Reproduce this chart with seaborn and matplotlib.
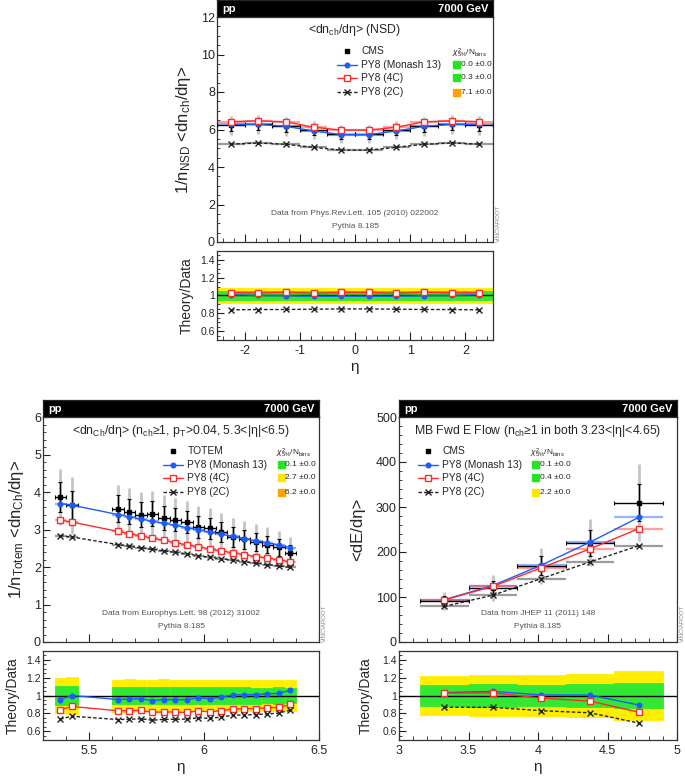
import numpy as np
import pandas as pd
import matplotlib
matplotlib.use("Agg")
import matplotlib.pyplot as plt
import seaborn as sns
from matplotlib.ticker import MultipleLocator, FuncFormatter

# ---- Panel 1: CMS NSD <dn_ch/deta>
nsd_lo = [-2.5, -2.0, -1.5, -1.0, -0.5, 0.0, 0.5, 1.0, 1.5, 2.0]
nsd_hi = [-2.0, -1.5, -1.0, -0.5, 0.0, 0.5, 1.0, 1.5, 2.0, 2.5]
nsd_data = [6.22, 6.27, 6.18, 5.97, 5.77, 5.77, 5.97, 6.18, 6.27, 6.22]
nsd_err = [0.29, 0.30, 0.29, 0.28, 0.27, 0.27, 0.28, 0.29, 0.30, 0.29]
nsd_err_tot = [0.50, 0.51, 0.50, 0.48, 0.47, 0.47, 0.48, 0.50, 0.51, 0.50]
nsd_monash = [6.27, 6.27, 6.17, 5.92, 5.73, 5.73, 5.92, 6.17, 6.27, 6.27]
nsd_4c = [6.42, 6.46, 6.41, 6.12, 5.97, 5.97, 6.12, 6.41, 6.46, 6.42]
nsd_2c = [5.22, 5.28, 5.21, 5.05, 4.90, 4.90, 5.05, 5.21, 5.28, 5.22]
nsd_chi2 = ["0.0 \u00b10.0", "0.3 \u00b10.0", "7.1 \u00b10.0"]
nsd_chi2_col = ["#22e622", "#22e622", "#ffa200"]

# ---- Panel 2: TOTEM forward <dn_ch/deta>
tot_lo = [5.35, 5.40, 5.60, 5.65, 5.70, 5.75, 5.80, 5.85, 5.90, 5.95,
          6.00, 6.05, 6.10, 6.15, 6.20, 6.25, 6.30, 6.35]
tot_hi = [5.40, 5.45, 5.65, 5.70, 5.75, 5.80, 5.85, 5.90, 5.95, 6.00,
          6.05, 6.10, 6.15, 6.20, 6.25, 6.30, 6.35, 6.40]
tot_data = [3.87, 3.65, 3.56, 3.48, 3.40, 3.42, 3.32, 3.26, 3.20, 3.07,
            3.04, 2.93, 2.80, 2.74, 2.67, 2.60, 2.53, 2.38]
tot_err = [0.40, 0.38, 0.35, 0.34, 0.33, 0.33, 0.32, 0.31, 0.30, 0.29,
           0.28, 0.27, 0.26, 0.25, 0.24, 0.23, 0.23, 0.21]
tot_err_tot = [0.74, 0.76, 0.64, 0.63, 0.61, 0.61, 0.60, 0.58, 0.57, 0.55,
               0.54, 0.52, 0.50, 0.49, 0.47, 0.46, 0.44, 0.41]
tot_monash = [3.69, 3.65, 3.40, 3.34, 3.28, 3.22, 3.17, 3.11, 3.05, 2.99,
              2.93, 2.87, 2.82, 2.76, 2.70, 2.65, 2.59, 2.52]
tot_4c = [3.25, 3.20, 2.95, 2.89, 2.83, 2.77, 2.71, 2.65, 2.59, 2.54,
          2.48, 2.43, 2.38, 2.33, 2.28, 2.24, 2.19, 2.14]
tot_2c = [2.84, 2.80, 2.60, 2.55, 2.51, 2.47, 2.43, 2.39, 2.35, 2.30,
          2.26, 2.22, 2.18, 2.14, 2.10, 2.06, 2.03, 1.99]
tot_chi2 = ["0.1 \u00b10.0", "2.7 \u00b10.0", "6.2 \u00b10.0"]
tot_chi2_col = ["#22e622", "#ffe600", "#ffa200"]

# ---- Panel 3: CMS forward energy flow
ef_lo = [3.15, 3.50, 3.85, 4.20, 4.55]
ef_hi = [3.50, 3.85, 4.20, 4.55, 4.90]
ef_data = [91, 120, 170, 221, 310]
ef_err = [11, 15, 21, 29, 42]
ef_err_tot = [20, 28, 40, 53, 85]
ef_monash = [94, 125.5, 171, 222, 277]
ef_4c = [93.5, 123.5, 165, 207, 252]
ef_2c = [79, 104, 141, 178, 214]
ef_chi2 = ["0.1 \u00b10.0", "0.4 \u00b10.0", "2.2 \u00b10.0"]
ef_chi2_col = ["#22e622", "#22e622", "#ffe600"]

mc_names = ["PY8 (Monash 13)", "PY8 (4C)", "PY8 (2C)"]
mc_styles = [
    dict(color="#1a5cff", marker="o", ms=3.3, mfc="#1a5cff", mec="#1a5cff", ls="-"),
    dict(color="#ff2a2a", marker="s", ms=4.6, mfc="white", mec="#ff2a2a", ls="-"),
    dict(color="#222222", marker="x", ms=4.5, mfc="#222222", mec="#222222", ls=(0, (2.5, 1.5))),
]

sns.set_style("ticks")
plt.rcParams["font.family"] = ["Liberation Sans", "DejaVu Sans"]
plt.rcParams["mathtext.fontset"] = "custom"
plt.rcParams["mathtext.rm"] = "Liberation Sans"
plt.rcParams["mathtext.it"] = "Liberation Sans:italic"
plt.rcParams["axes.linewidth"] = 0.9

W, H = 685, 777
fig = plt.figure(figsize=(W / 100, H / 100), dpi=100)
gfmt = FuncFormatter(lambda v, p: "%g" % round(v, 6))


def frac(x0, y0, x1, y1):
    return [x0 / W, 1 - y1 / H, (x1 - x0) / W, (y1 - y0) / H]


def style_axis(ax, xmaj, xmin, ymaj, ymin, ytick_size):
    ax.xaxis.set_major_locator(MultipleLocator(xmaj))
    ax.xaxis.set_minor_locator(MultipleLocator(xmin))
    ax.yaxis.set_major_locator(MultipleLocator(ymaj))
    ax.yaxis.set_minor_locator(MultipleLocator(ymin))
    ax.tick_params(which="both", direction="in", top=False, right=False, color="#222222")
    ax.tick_params(axis="y", which="major", length=5, labelsize=ytick_size, pad=1.5)
    ax.tick_params(axis="y", which="minor", length=2.5)
    ax.tick_params(axis="x", which="major", length=6, labelsize=9)
    ax.tick_params(axis="x", which="minor", length=3)
    ax.xaxis.set_major_formatter(gfmt)
    ax.yaxis.set_major_formatter(gfmt)
    for s in ax.spines.values():
        s.set_color("#333333")


def panel(x0, x1, ytop, lo, hi, data, err, err_tot, mcs, chi2, chi2_col,
          title, ylabel, ref, data_name, xlim, ylim, xmaj, xmin, ymaj, ymin,
          ylab_pad, leg_x=0.435, chi_x=0.85):
    lo = np.array(lo); hi = np.array(hi)
    c = (lo + hi) / 2
    hw = (hi - lo) / 2
    data = np.array(data); err = np.array(err); err_tot = np.array(err_tot)

    # header bar
    hd = fig.add_axes(frac(x0, ytop - 17, x1, ytop))
    hd.set_facecolor("black")
    hd.set_xticks([]); hd.set_yticks([])
    hd.text(0.02, 0.45, "pp", color="white", fontsize=8, fontweight="bold",
            va="center", ha="left", transform=hd.transAxes)
    hd.text(0.985, 0.45, "7000 GeV", color="white", fontsize=8, fontweight="bold",
            va="center", ha="right", transform=hd.transAxes)

    ax = fig.add_axes(frac(x0, ytop, x1, ytop + 225))
    ax.errorbar(c, data, yerr=err_tot, fmt="none", ecolor="#c4c4c4", elinewidth=2, zorder=1)
    for vals, st in zip(mcs, mc_styles):
        ax.errorbar(c, vals, xerr=hw, fmt="none", ecolor=st["color"], elinewidth=1.6,
                    alpha=0.45, linestyle=st["ls"], zorder=2)
    ax.errorbar(c, data, xerr=hw, yerr=err, fmt="s", color="black", ms=3.5,
                elinewidth=1, capsize=1.5, capthick=0.8, zorder=3)
    for vals, st in zip(mcs, mc_styles):
        sns.lineplot(x=c, y=vals, ax=ax, sort=False, color=st["color"], lw=1,
                     linestyle=st["ls"], marker=st["marker"], markersize=st["ms"],
                     markerfacecolor=st["mfc"], markeredgecolor=st["mec"],
                     markeredgewidth=1, zorder=4)
    ax.set_xlim(xlim); ax.set_ylim(ylim)
    style_axis(ax, xmaj, xmin, ymaj, ymin, 9)
    ax.tick_params(axis="x", labelbottom=False)
    ax.set_xlabel("")
    ax.set_ylabel(ylabel, fontsize=12, labelpad=ylab_pad)

    # legend block
    tr = ax.transAxes
    ax.text(0.5, 0.94, title, transform=tr, ha="center", va="center", fontsize=8.8)
    rows = [0.851, 0.787, 0.729, 0.665]
    mid = leg_x + 0.036
    ax.plot([mid], [rows[0]], "s", color="black", ms=3, transform=tr, clip_on=False)
    ax.text(leg_x + 0.088, rows[0], data_name, transform=tr, va="center", fontsize=7.4)
    for r, name, st in zip(rows[1:], mc_names, mc_styles):
        ax.plot([leg_x, leg_x + 0.072], [r, r], color=st["color"], lw=1, ls=st["ls"],
                transform=tr)
        ax.plot([mid], [r], marker=st["marker"], ms=st["ms"], mfc=st["mfc"],
                mec=st["mec"], mew=1, transform=tr, ls="none")
        ax.text(leg_x + 0.088, r, name, transform=tr, va="center", fontsize=7.4)
    ax.text(chi_x - 0.005, rows[0] - 0.012, r"$\chi^{2}_{5\%}$/N$_{\rm bins}$", transform=tr,
            va="center", ha="left", fontsize=6)
    sq_w = 7.0 / (x1 - x0)
    sq_h = 7.0 / 225
    for r, t, col in zip(rows[1:], chi2, chi2_col):
        ax.add_patch(plt.Rectangle((chi_x, r - sq_h / 2), sq_w, sq_h, color=col,
                                   transform=tr, clip_on=False))
        ax.text(chi_x + sq_w + 0.003, r, t, transform=tr, va="center", fontsize=6)
    ax.text(0.5, 0.125, ref, transform=tr, ha="center", va="center", fontsize=6,
            color="#555555")
    ax.text(0.5, 0.071, "Pythia 8.185", transform=tr, ha="center", va="center",
            fontsize=6, color="#555555")
    ax.text(1.012, 0.0, "VINCIAROOT", transform=tr, rotation=90, ha="left", va="bottom",
            fontsize=4.3, color="#888888")

    # ratio
    rx = fig.add_axes(frac(x0, ytop + 234, x1, ytop + 323))
    rel_tot = err_tot / data
    rel = err / data
    rx.bar(c, 2 * rel_tot, bottom=1 - rel_tot, width=hi - lo, color="#ffee00",
           edgecolor="#ffee00", linewidth=0.6, zorder=1)
    rx.bar(c, 2 * rel, bottom=1 - rel, width=hi - lo, color="#33e833",
           edgecolor="#33e833", linewidth=0.6, zorder=2)
    rx.axhline(1.0, color="black", lw=1, zorder=3)
    for vals, st in zip(mcs, mc_styles):
        sns.lineplot(x=c, y=np.array(vals) / data, ax=rx, sort=False, color=st["color"],
                     lw=1, linestyle=st["ls"], marker=st["marker"], markersize=st["ms"],
                     markerfacecolor=st["mfc"], markeredgecolor=st["mec"],
                     markeredgewidth=1, zorder=4)
    rx.set_xlim(xlim); rx.set_ylim(0.5, 1.5)
    style_axis(rx, xmaj, xmin, 0.2, 0.05, 7.5)
    rx.set_yticks([0.6, 0.8, 1.0, 1.2, 1.4])
    rx.set_ylabel("Theory/Data", fontsize=10, labelpad=ylab_pad - 1)
    rx.set_xlabel("\u03b7", fontsize=11, labelpad=2)
    return ax, rx


panel(217, 493, 17, nsd_lo, nsd_hi, nsd_data, nsd_err, nsd_err_tot,
      [nsd_monash, nsd_4c, nsd_2c], nsd_chi2, nsd_chi2_col,
      "<dn$_{\\rm ch}$/d\u03b7> (NSD)", "1/n$_{\\rm NSD}$ <dn$_{\\rm ch}$/d\u03b7>",
      "Data from Phys.Rev.Lett. 105 (2010) 022002", "CMS",
      (-2.5, 2.5), (0, 12), 1, 0.2, 2, 0.5, 6, leg_x=0.435, chi_x=0.855)

panel(43, 319, 417, tot_lo, tot_hi, tot_data, tot_err, tot_err_tot,
      [tot_monash, tot_4c, tot_2c], tot_chi2, tot_chi2_col,
      "<dn$_{\\rm Ch}$/d\u03b7> (n$_{\\rm ch}$\u22651, p$_{\\rm T}$>0.04, 5.3<|\u03b7|<6.5)",
      "1/n$_{\\rm Totem}$ <dn$_{\\rm Ch}$/d\u03b7>",
      "Data from Europhys.Lett. 98 (2012) 31002", "TOTEM",
      (5.3, 6.5), (0, 6), 0.5, 0.1, 1, 0.2, 6, leg_x=0.435, chi_x=0.85)

panel(399, 677, 417, ef_lo, ef_hi, ef_data, ef_err, ef_err_tot,
      [ef_monash, ef_4c, ef_2c], ef_chi2, ef_chi2_col,
      "MB Fwd E Flow (n$_{\\rm ch}$\u22651 in both 3.23<|\u03b7|<4.65)", "<dE/d\u03b7>",
      "Data from JHEP 11 (2011) 148", "CMS",
      (3, 5), (0, 500), 0.5, 0.1, 100, 20, 8, leg_x=0.068, chi_x=0.478)

fig.savefig("out.png", dpi=100)
